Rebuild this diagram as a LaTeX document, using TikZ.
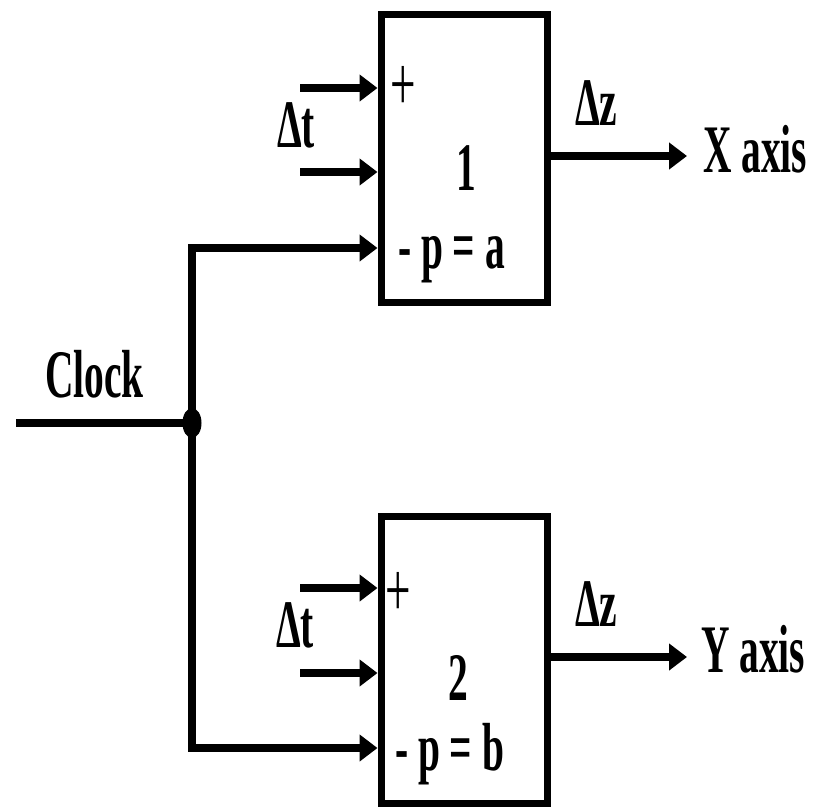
\documentclass[tikz,border=0pt]{standalone}
\usepackage{fontspec}
\setmainfont{Liberation Serif}
\usetikzlibrary{arrows.meta,shapes.geometric}
\newcommand{\tx}[1]{\scalebox{0.58}[1]{\fontsize{68}{68}\selectfont\bfseries #1}}
\newcommand{\txr}[1]{\scalebox{0.58}[1]{\fontsize{78}{78}\selectfont #1}}
\begin{document}
\begin{tikzpicture}[x=1pt,y=-1pt,
  box/.style={draw,line width=7pt,rectangle,minimum width=166pt,inner sep=0pt},
  wire/.style={line width=7.5pt},
  arr/.style={line width=7.5pt,-{Triangle[length=18pt,width=26pt]}},
  lbl/.style={inner sep=0pt,outer sep=0pt,anchor=base west},
  dotnode/.style={ellipse,fill,inner sep=0pt,minimum width=19pt,minimum height=30pt}]
\useasboundingbox (0,0) rectangle (826,809);
% boxes
\node[box,minimum height=288pt] (b1) at (464,158) {};
\node[box,minimum height=287pt] (b2) at (464,659.5) {};
% coordinates
\coordinate (i11) at (300,88);
\coordinate (i12) at (300,172);
\coordinate (c1) at (192,248);
\coordinate (i21) at (300,588);
\coordinate (i22) at (300,673);
\coordinate (c2) at (192,748);
\coordinate (clk) at (16,423);
\node[dotnode] (j) at (192,423) {};
\coordinate (o1) at (687,156);
\coordinate (o2) at (687,657);
% inputs
\draw[arr] (i11) -- (i11 -| b1.west);
\draw[arr] (i12) -- (i12 -| b1.west);
\draw[arr] (i21) -- (i21 -| b2.west);
\draw[arr] (i22) -- (i22 -| b2.west);
% clock
\draw[wire] (clk) -- (j.center);
\draw[arr] (j.center) -- (c1) -- (c1 -| b1.west);
\draw[arr] (j.center) -- (c2) -- (c2 -| b2.west);
% outputs
\draw[arr] (o1 -| b1.east) -- (o1);
\draw[arr] (o2 -| b2.east) -- (o2);
% labels
\node[lbl] (lclk) at (45,397) {\tx{Clock}};
\node[lbl] (dt1) at (277,147) {\tx{Δt}};
\node[lbl] (dt2) at (276,647) {\tx{Δt}};
\node[lbl] (dz1) at (575,125) {\tx{Δz}};
\node[lbl] (dz2) at (575,626) {\tx{Δz}};
\node[lbl] (xa) at (703,172) {\tx{X axis}};
\node[lbl] (ya) at (701,672) {\tx{Y axis}};
\node[inner sep=0pt] (p1) at (403,88) {\txr{+}};
\node[inner sep=0pt] (p2) at (398,594) {\txr{+}};
\node[inner sep=0pt,anchor=base] (n1) at (466,190) {\tx{1}};
\node[inner sep=0pt,anchor=base] (n2) at (458,700) {\tx{2}};
\node[lbl] (e1) at (398,268) {\tx{- p = a}};
\node[lbl] (e2) at (395,770) {\tx{- p = b}};
\end{tikzpicture}
\end{document}
